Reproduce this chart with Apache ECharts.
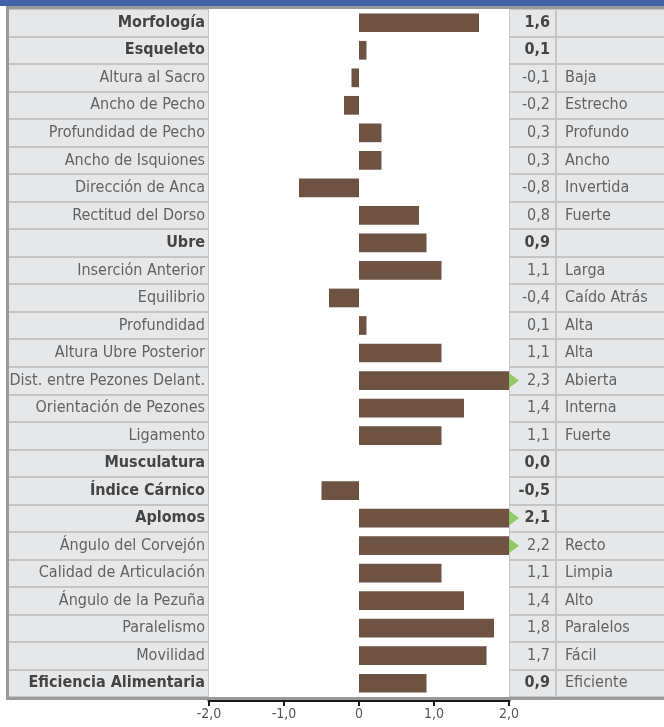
<!DOCTYPE html>
<html><head><meta charset="utf-8">
<script src="https://cdn.jsdelivr.net/npm/echarts@6/dist/echarts.min.js"></script>
<style>html,body{margin:0;padding:0;background:#fff}#c{width:664px;height:727px}</style>
</head><body><div id="c"></div>
<script>
const categories = ["Morfología","Esqueleto","Altura al Sacro","Ancho de Pecho","Profundidad de Pecho","Ancho de Isquiones","Dirección de Anca","Rectitud del Dorso","Ubre","Inserción Anterior","Equilibrio","Profundidad","Altura Ubre Posterior","Dist. entre Pezones Delant.","Orientación de Pezones","Ligamento","Musculatura","Índice Cárnico","Aplomos","Ángulo del Corvejón","Calidad de Articulación","Ángulo de la Pezuña","Paralelismo","Movilidad","Eficiencia Alimentaria"];
const values = [1.6,0.1,-0.1,-0.2,0.3,0.3,-0.8,0.8,0.9,1.1,-0.4,0.1,1.1,2.3,1.4,1.1,0.0,-0.5,2.1,2.2,1.1,1.4,1.8,1.7,0.9];
const descriptions = ["","","Baja","Estrecho","Profundo","Ancho","Invertida","Fuerte","","Larga","Caído Atrás","Alta","Alta","Abierta","Interna","Fuerte","","","","Recto","Limpia","Alto","Paralelos","Fácil","Eficiente"];
const isHeader = [true,true,false,false,false,false,false,false,true,false,false,false,false,false,false,false,true,true,true,false,false,false,false,false,true];
const xTickLabels = {"-2":"-2,0","-1":"-1,0","0":"0","1":"1,0","2":"2,0"};
const axisMin = -2, axisMax = 2;

const FONT = '"Liberation Sans Narrow","DejaVu Sans Condensed","Roboto",sans-serif';
const TOP = 9, BOTTOM = 30, FS = 16;
const fmtNum = v => v.toFixed(1).replace('.', ',');

const chart = echarts.init(document.getElementById('c'));
chart.setOption({
  animation: false,
  backgroundColor: '#ffffff',
  graphic: [
    {type:'rect', shape:{x:0,y:0,width:664,height:6}, style:{fill:'#4263a6'}, z:100},
    {type:'rect', shape:{x:6,y:6,width:658,height:3}, style:{fill:'#9a9a9a'}, z:100},
    {type:'rect', shape:{x:6,y:6,width:3,height:694}, style:{fill:'#9a9a9a'}, z:100},
    {type:'rect', shape:{x:6,y:697,width:658,height:3}, style:{fill:'#9a9a9a'}, z:100}
  ],
  grid: [
    {left:9, right:0, top:TOP, bottom:BOTTOM, show:true, backgroundColor:'#e6e7e8', borderWidth:0, z:0, containLabel:false, outerBoundsMode:'none'},
    {left:209, width:300, top:TOP, bottom:BOTTOM, show:true, backgroundColor:'#ffffff', borderWidth:0, z:1, containLabel:false, outerBoundsMode:'none'}
  ],
  xAxis: [
    {gridIndex:0, type:'value', min:0, max:1, show:false},
    {gridIndex:1, type:'value', min:axisMin, max:axisMax, interval:1, position:'bottom', offset:3,
     axisLine:{show:true, lineStyle:{color:'#1a1a1a', width:3}},
     axisTick:{show:true, length:6, lineStyle:{color:'#1a1a1a', width:2}},
     axisLabel:{formatter: v => xTickLabels[String(v)], color:'#555', fontSize:14, fontFamily:FONT, margin:7},
     splitLine:{show:true, lineStyle:{color:'#c6c6c6', width:2}}}
  ],
  yAxis: [
    {gridIndex:0, type:'category', inverse:true, data:categories,
     axisLine:{show:false}, axisTick:{show:false}, axisLabel:{show:false},
     splitLine:{show:true, lineStyle:{color:'#c4c4c4', width:2}}},
    {gridIndex:1, type:'category', inverse:true, data:categories, position:'left',
     axisLine:{show:false}, axisTick:{show:false},
     splitLine:{show:true, lineStyle:{color:'#c6c6c6', width:2}},
     axisLabel:{margin:4, fontFamily:FONT, fontSize:FS,
       formatter:(v,i)=> isHeader[i] ? '{b|'+v+'}' : '{n|'+v+'}',
       rich:{b:{fontWeight:'bold', color:'#444', fontSize:FS, fontFamily:FONT},
             n:{color:'#626262', fontSize:FS, fontFamily:FONT}}}},
    {gridIndex:1, type:'category', inverse:true, data:categories, position:'right', offset:0,
     axisLine:{show:true, lineStyle:{color:'#c6c6c6', width:2}}, axisTick:{show:false}, splitLine:{show:false},
     axisLabel:{margin:41, align:'right', fontFamily:FONT, fontSize:FS,
       formatter:(v,i)=> isHeader[i] ? '{b|'+fmtNum(values[i])+'}' : '{n|'+fmtNum(values[i])+'}',
       rich:{b:{fontWeight:'bold', color:'#444', fontSize:FS, fontFamily:FONT, align:'right'},
             n:{color:'#626262', fontSize:FS, fontFamily:FONT, align:'right'}}}},
    {gridIndex:1, type:'category', inverse:true, data:categories, position:'right', offset:47,
     axisLine:{show:true, lineStyle:{color:'#c6c6c6', width:2}}, axisTick:{show:false}, splitLine:{show:false},
     axisLabel:{margin:9, align:'left', color:'#626262', fontFamily:FONT, fontSize:FS,
       formatter:(v,i)=> descriptions[i]}}
  ],
  series: [
    {type:'bar', xAxisIndex:1, yAxisIndex:1, barWidth:'68%', z:5,
     itemStyle:{color:'#6e5242'},
     data: values.map(v => Math.max(axisMin, Math.min(axisMax, v)))},
    {type:'scatter', xAxisIndex:1, yAxisIndex:1, symbol:'triangle', symbolRotate:-90, symbolSize:[15,10],
     symbolOffset:[5,0], clip:false, z:6, itemStyle:{color:'#7dc242'},
     data: values.map((v,i) => v > axisMax ? [axisMax, categories[i]] : null).filter(d => d)}
  ]
});
</script></body></html>
